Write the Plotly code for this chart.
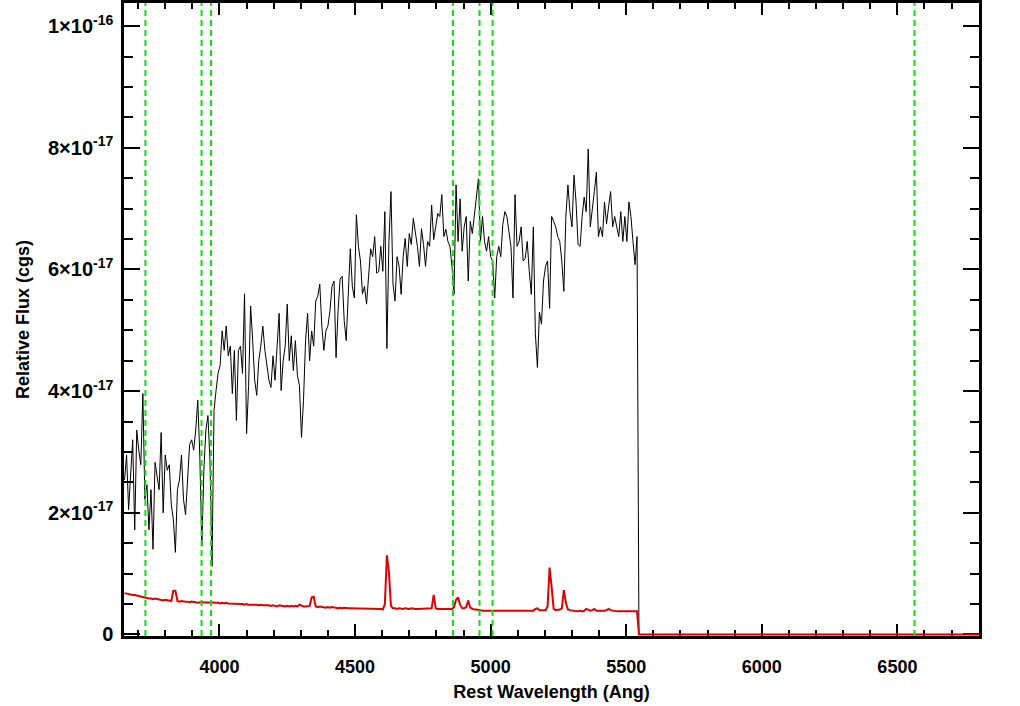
import numpy as np
import plotly.graph_objects as go

# ---- data (flux in units of 1e-17 erg/s/cm^2/A) ----
wave_start = 3650.0
wave_step = 7.5
flux_obs = [
    2.54, 2.95, 2.05, 2.70, 3.20, 1.72, 3.36, 3.03, 2.79, 3.96,
    2.22, 2.46, 1.72, 2.38, 1.40, 2.83, 2.62, 2.38, 3.32, 2.00,
    2.95, 2.70, 2.79, 2.13, 1.89, 1.35, 2.38, 2.54, 2.95, 2.22,
    1.97, 2.46, 3.12, 3.20, 3.03, 3.36, 3.85, 2.95, 1.45, 2.70,
    3.36, 3.60, 2.87, 1.12, 3.68, 4.01, 4.30, 4.42, 4.99, 4.67,
    5.07, 4.58, 4.74, 3.96, 4.67, 3.52, 4.67, 4.74, 4.29, 5.60,
    3.30, 4.09, 5.40, 4.83, 4.18, 3.93, 4.50, 4.74, 5.07, 4.67,
    4.42, 4.18, 4.06, 4.58, 4.18, 4.83, 5.28, 4.01, 4.50, 4.74,
    5.43, 4.50, 4.91, 4.34, 4.83, 4.26, 4.09, 3.24, 3.85, 4.83,
    5.28, 4.50, 4.99, 4.74, 5.48, 5.56, 5.76, 5.07, 4.67, 4.99,
    5.07, 5.32, 5.72, 5.81, 4.55, 5.32, 5.84, 5.89, 5.16, 4.83,
    5.64, 6.34, 5.72, 5.53, 6.90, 6.38, 6.14, 5.60, 5.72, 5.43,
    5.89, 6.34, 6.21, 6.54, 5.94, 5.97, 6.38, 5.97, 6.95, 4.70,
    6.46, 7.28, 5.76, 5.48, 6.21, 6.05, 5.59, 6.21, 6.51, 6.05,
    6.59, 6.41, 6.84, 6.62, 6.38, 6.05, 6.67, 6.41, 6.05, 6.46,
    6.38, 7.06, 6.49, 6.70, 6.92, 6.87, 7.23, 6.54, 6.66, 6.46,
    6.38, 6.05, 5.59, 7.39, 6.46, 7.16, 6.30, 6.70, 6.87, 5.81,
    6.79, 6.59, 6.87, 7.11, 7.49, 6.46, 6.87, 6.46, 6.30, 6.54,
    6.21, 6.14, 5.53, 6.21, 6.38, 6.21, 6.74, 6.95, 6.87, 6.62,
    6.38, 5.53, 7.23, 6.38, 6.46, 6.70, 6.14, 6.18, 6.46, 5.97,
    5.59, 6.70, 4.95, 4.39, 5.30, 5.10, 5.81, 6.05, 6.14, 5.36,
    6.87, 6.79, 6.70, 6.54, 6.46, 6.14, 5.64, 6.87, 7.39, 6.95,
    6.70, 7.55, 7.11, 6.41, 6.38, 6.87, 7.19, 6.95, 7.98, 6.70,
    6.95, 7.28, 7.60, 6.54, 6.70, 6.54, 7.11, 6.75, 7.03, 7.28,
    6.70, 6.87, 6.70, 6.54, 6.95, 6.46, 6.87, 6.46, 7.11, 6.87,
    6.46, 6.08, 6.54,
]
flux_err = [
    0.68, 0.67, 0.67, 0.66, 0.65, 0.65, 0.64, 0.63, 0.62, 0.62,
    0.60, 0.60, 0.59, 0.59, 0.58, 0.59, 0.58, 0.57, 0.57, 0.56,
    0.57, 0.56, 0.56, 0.55, 0.72, 0.72, 0.55, 0.54, 0.55, 0.54,
    0.54, 0.54, 0.53, 0.54, 0.53, 0.53, 0.52, 0.53, 0.53, 0.53,
    0.52, 0.53, 0.52, 0.52, 0.53, 0.52, 0.52, 0.51, 0.52, 0.51,
    0.52, 0.51, 0.51, 0.50, 0.51, 0.50, 0.50, 0.51, 0.50, 0.49,
    0.50, 0.49, 0.49, 0.50, 0.49, 0.49, 0.48, 0.49, 0.48, 0.48,
    0.49, 0.48, 0.47, 0.48, 0.47, 0.46, 0.48, 0.47, 0.47, 0.46,
    0.47, 0.46, 0.47, 0.46, 0.47, 0.46, 0.49, 0.47, 0.46, 0.46,
    0.46, 0.47, 0.61, 0.62, 0.46, 0.45, 0.46, 0.45, 0.45, 0.44,
    0.45, 0.44, 0.45, 0.44, 0.44, 0.43, 0.44, 0.43, 0.44, 0.43,
    0.43, 0.43, 0.43, 0.43, 0.43, 0.43, 0.43, 0.43, 0.43, 0.43,
    0.43, 0.43, 0.43, 0.42, 0.43, 0.42, 0.42, 0.41, 0.50, 1.30,
    1.02, 0.47, 0.43, 0.43, 0.42, 0.43, 0.42, 0.42, 0.43, 0.42,
    0.42, 0.43, 0.42, 0.42, 0.42, 0.42, 0.43, 0.42, 0.42, 0.42,
    0.42, 0.43, 0.65, 0.43, 0.42, 0.42, 0.42, 0.42, 0.42, 0.42,
    0.43, 0.42, 0.45, 0.57, 0.61, 0.49, 0.43, 0.43, 0.45, 0.56,
    0.44, 0.42, 0.41, 0.41, 0.40, 0.40, 0.39, 0.39, 0.39, 0.39,
    0.39, 0.39, 0.38, 0.39, 0.39, 0.38, 0.39, 0.39, 0.38, 0.39,
    0.38, 0.39, 0.38, 0.38, 0.38, 0.39, 0.38, 0.38, 0.38, 0.38,
    0.39, 0.39, 0.42, 0.43, 0.40, 0.40, 0.41, 0.40, 0.46, 1.10,
    0.78, 0.42, 0.40, 0.40, 0.41, 0.43, 0.73, 0.52, 0.41, 0.40,
    0.39, 0.39, 0.38, 0.38, 0.39, 0.38, 0.39, 0.42, 0.40, 0.39,
    0.40, 0.42, 0.39, 0.39, 0.38, 0.39, 0.39, 0.40, 0.42, 0.40,
    0.39, 0.39, 0.38, 0.38, 0.38, 0.38, 0.37, 0.38, 0.37, 0.38,
    0.37, 0.38, 0.38,
]
# beyond the spectral coverage the arrays are zero
tail_wave = [5547.0, 6900.0]
tail_flux = [0.0, 0.0]
flux_unit = 1e-17

# emission/absorption line markers (Angstrom)
line_waves = [3727, 3934, 3969, 4861, 4959, 5007, 6563]

x_range = [3648, 6801]
y_range = [-2.5e-19, 1.038e-16]
x_major = [4000, 4500, 5000, 5500, 6000, 6500]
y_major = [0, 2e-17, 4e-17, 6e-17, 8e-17, 1e-16]
y_labels = ["0", "2\u00d710<sup>-17</sup>", "4\u00d710<sup>-17</sup>",
            "6\u00d710<sup>-17</sup>", "8\u00d710<sup>-17</sup>",
            "1\u00d710<sup>-16</sup>"]

# ---- build traces ----
w_obs = list(wave_start + wave_step * np.arange(len(flux_obs))) + tail_wave
f_obs = [v * flux_unit for v in flux_obs] + tail_flux
w_err = list(wave_start + wave_step * np.arange(len(flux_err))) + tail_wave
f_err = [v * flux_unit for v in flux_err] + tail_flux

fig = go.Figure()
fig.add_trace(go.Scatter(x=w_obs, y=f_obs, mode="lines",
                         line=dict(color="black", width=1), hoverinfo="skip"))
fig.add_trace(go.Scatter(x=w_err, y=f_err, mode="lines",
                         line=dict(color="#e00000", width=2), hoverinfo="skip"))

for lw in line_waves:
    fig.add_shape(type="line", xref="x", yref="paper", x0=lw, x1=lw, y0=0, y1=1,
                  line=dict(color="#11dd11", width=2, dash="6px,4px"), layer="above")

font_family = "Liberation Sans, Arial, sans-serif"
fig.update_layout(
    width=1020, height=706,
    margin=dict(l=124, r=41, t=0, b=70),
    paper_bgcolor="white", plot_bgcolor="white",
    showlegend=False,
    font=dict(family=font_family, size=18, color="black", weight="bold"),
)
fig.update_xaxes(
    range=x_range, showgrid=False, zeroline=False, layer="below traces",
    showline=True, linecolor="black", linewidth=2.5, mirror="ticks",
    ticks="inside", ticklen=12, tickwidth=2, tickcolor="black",
    tickmode="array", tickvals=x_major, ticktext=[str(v) for v in x_major],
    ticklabelstandoff=13,
    tickfont=dict(family=font_family, size=18, color="black", weight="bold"),
    minor=dict(ticks="inside", ticklen=6, tickwidth=2, tickcolor="black",
               tick0=4000, dtick=100, showgrid=False),
    title=dict(text="Rest Wavelength (Ang)", standoff=10,
               font=dict(family=font_family, size=18, color="black", weight="bold")),
)
fig.update_yaxes(
    range=y_range, showgrid=False, zeroline=False, layer="below traces",
    showline=True, linecolor="black", linewidth=2.5, mirror="ticks",
    ticks="inside", ticklen=16, tickwidth=2, tickcolor="black",
    tickmode="array", tickvals=y_major, ticktext=y_labels,
    ticklabelstandoff=4,
    tickfont=dict(family=font_family, size=20, color="black", weight="bold"),
    minor=dict(ticks="inside", ticklen=9, tickwidth=2, tickcolor="black",
               tick0=0, dtick=5e-18, showgrid=False),
    title=dict(text="Relative Flux (cgs)", standoff=14,
               font=dict(family=font_family, size=18, color="black", weight="bold")),
)

fig.write_html("out.html", config={"displayModeBar": False},
               post_script="document.body.style.margin='0px';document.body.style.overflow='hidden';")
